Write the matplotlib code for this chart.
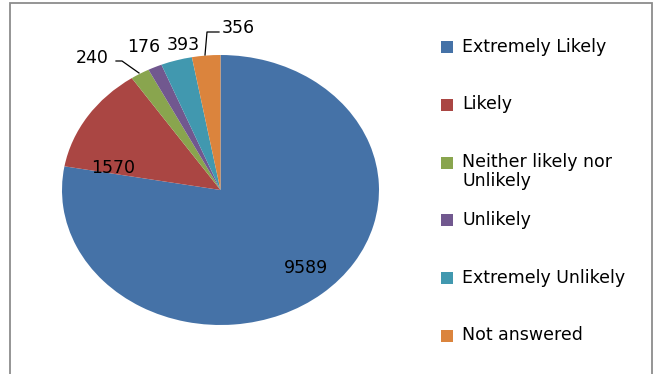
import matplotlib.pyplot as plt
from matplotlib.patches import Rectangle

# ========== data ==========
categories = ['Extremely Likely', 'Likely', 'Neither likely nor\nUnlikely',
              'Unlikely', 'Extremely Unlikely', 'Not answered']
counts = [9589, 1570, 240, 176, 393, 356]
colors = ['#4572A7', '#AA4643', '#89A54E', '#71588F', '#4198AF', '#DB843D']

W, H = 658, 374
plt.rcParams['font.family'] = ['DejaVu Sans']
FS = 12.5

fig = plt.figure(figsize=(W / 100, H / 100), dpi=100)

# chart border
fig.add_artist(Rectangle((10 / W, -0.05), 642 / W, 1.05 - 3 / H,
                         transform=fig.transFigure, fill=False,
                         edgecolor='#8c8c8c', linewidth=1.3))

# pie is drawn slightly squashed, like the original
cx, cy, rx, ry = 220.5, 190, 158.5, 135
ax = fig.add_axes([(cx - rx) / W, 1 - (cy + ry) / H, 2 * rx / W, 2 * ry / H])
wedges, _ = ax.pie(counts, colors=colors, startangle=90, counterclock=False,
                   wedgeprops=dict(linewidth=0))
ax.set_aspect('auto')
ax.set_xlim(-1, 1)
ax.set_ylim(-1, 1)
ax.axis('off')

# data labels (pixel positions of label centres)
label_pos = [(306, 268), (113, 168), (92, 58), (144, 47), (183, 45), (238, 28)]
for v, (px, py) in zip(counts, label_pos):
    fig.text(px / W, 1 - py / H, str(v), ha='center', va='center', fontsize=FS)

# leader lines
leaders = [[(116, 61), (122, 61), (139, 73)],
           [(219, 32), (207, 32), (205, 55)]]
for pts in leaders:
    xs = [p[0] / W for p in pts]
    ys = [1 - p[1] / H for p in pts]
    fig.add_artist(plt.Line2D(xs, ys, transform=fig.transFigure,
                              color='black', linewidth=0.9))

# legend
y0, step = 47, 57.8
for i, (lab, c) in enumerate(zip(categories, colors)):
    y = y0 + i * step
    fig.add_artist(Rectangle((441 / W, 1 - (y + 6) / H), 12 / W, 12 / H,
                             transform=fig.transFigure, color=c, linewidth=0))
    fig.text(462 / W, 1 - (y - 9.5) / H, lab, ha='left', va='top',
             fontsize=FS, linespacing=1.05)

fig.savefig('out.png', dpi=100)
